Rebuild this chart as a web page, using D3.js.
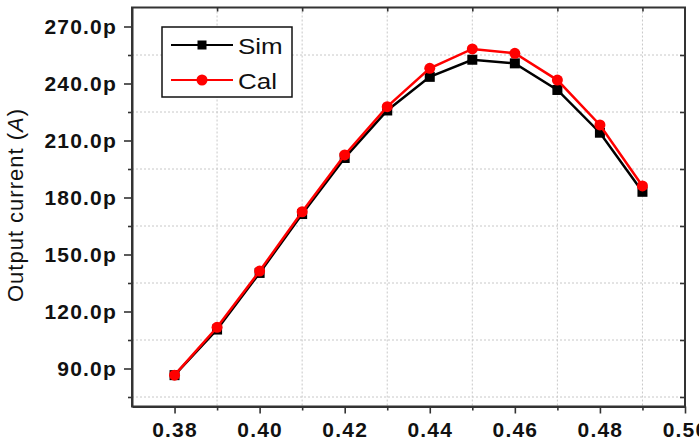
<!DOCTYPE html>
<html>
<head>
<meta charset="utf-8">
<script src="https://cdn.jsdelivr.net/npm/d3@7/dist/d3.min.js"></script>
<style>
  body { margin: 0; background: #fff; }
  svg { display: block; }
</style>
</head>
<body>
<div id="chart"></div>
<script>
// data (current in pA)
var xValues = [0.38, 0.39, 0.40, 0.41, 0.42, 0.43, 0.44, 0.45, 0.46, 0.47, 0.48, 0.49];
var simValues = [86.5, 110.5, 140.3, 171.3, 200.8, 225.8, 243.5, 252.5, 250.6, 236.6, 214.1, 183.0];
var calValues = [86.5, 111.7, 141.3, 172.5, 202.4, 227.8, 248.0, 258.2, 255.9, 241.8, 218.2, 186.1];
var xTicks = [0.38, 0.40, 0.42, 0.44, 0.46, 0.48, 0.50];
var xMinor = [0.39, 0.41, 0.43, 0.45, 0.47, 0.49];
var yTicks = [90, 120, 150, 180, 210, 240, 270];
var yMinor = [75, 105, 135, 165, 195, 225, 255];
var seriesNames = ["Sim", "Cal"];

var w = 699, h = 441;
// plot frame edges (window.top is taken, so p-prefixed names)
var pLeft = 132, pTop = 7.5, pRight = 685, pBottom = 406.5;

var svg = d3.select("#chart").append("svg")
    .attr("width", w)
    .attr("height", h);

var x = d3.scaleLinear().domain([0.37, 0.50]).range([pLeft, pRight]);
var y = d3.scaleLinear().domain([70, 280]).range([pBottom, pTop]);

// dotted grid at the minor positions
svg.append("g").selectAll("line")
    .data(xMinor).enter().append("line")
    .attr("x1", function(d) { return x(d); })
    .attr("x2", function(d) { return x(d); })
    .attr("y1", pTop).attr("y2", pBottom)
    .attr("stroke", "#c8c8c8").attr("stroke-width", 1)
    .attr("stroke-dasharray", "2,2");
svg.append("g").selectAll("line")
    .data(yMinor).enter().append("line")
    .attr("x1", pLeft).attr("x2", pRight)
    .attr("y1", function(d) { return y(d); })
    .attr("y2", function(d) { return y(d); })
    .attr("stroke", "#c8c8c8").attr("stroke-width", 1)
    .attr("stroke-dasharray", "2,2");

// bottom axis
var xAxis = svg.append("g")
    .attr("transform", "translate(0," + pBottom + ")")
    .call(d3.axisBottom(x).tickValues(xTicks).tickFormat(d3.format(".2f")).tickSize(7).tickSizeOuter(0));
svg.append("g")
    .attr("transform", "translate(0," + pBottom + ")")
    .call(d3.axisBottom(x).tickValues(xMinor).tickFormat("").tickSize(4).tickSizeOuter(0))
    .select(".domain").remove();

// left axis
var yAxis = svg.append("g")
    .attr("transform", "translate(" + pLeft + ",0)")
    .call(d3.axisLeft(y).tickValues(yTicks).tickFormat(function(d) { return d3.format(".1f")(d) + "p"; }).tickSize(8).tickSizeOuter(0));
svg.append("g")
    .attr("transform", "translate(" + pLeft + ",0)")
    .call(d3.axisLeft(y).tickValues(yMinor).tickFormat("").tickSize(4).tickSizeOuter(0))
    .select(".domain").remove();

// top and right: small inward ticks at minor positions
svg.append("g")
    .attr("transform", "translate(0," + pTop + ")")
    .call(d3.axisBottom(x).tickValues(xMinor).tickFormat("").tickSize(4).tickSizeOuter(0))
    .select(".domain").remove();
svg.append("g")
    .attr("transform", "translate(" + pRight + ",0)")
    .call(d3.axisLeft(y).tickValues(yMinor).tickFormat("").tickSize(5).tickSizeOuter(0))
    .select(".domain").remove();

svg.selectAll(".tick line").attr("stroke", "#333").attr("stroke-width", 1.6);
svg.selectAll(".domain").attr("stroke", "#333").attr("stroke-width", 2);

xAxis.selectAll("text")
    .attr("y", 16)
    .style("font-family", "'Liberation Sans', Arial, sans-serif")
    .style("font-weight", "bold")
    .style("font-size", "21px")
    .style("letter-spacing", "1.2px")
    .attr("fill", "#111");
yAxis.selectAll("text")
    .attr("x", -15)
    .style("font-family", "'Liberation Sans', Arial, sans-serif")
    .style("font-weight", "bold")
    .style("font-size", "21px")
    .style("letter-spacing", "1.2px")
    .attr("fill", "#111");

// frame
svg.append("rect")
    .attr("x", pLeft).attr("y", pTop)
    .attr("width", pRight - pLeft).attr("height", pBottom - pTop)
    .attr("fill", "none").attr("stroke", "#333").attr("stroke-width", 2);

// y label
var ylab = svg.append("text")
    .attr("transform", "translate(23,205) rotate(-90)")
    .attr("text-anchor", "middle")
    .style("font-family", "'Liberation Sans', Arial, sans-serif")
    .style("font-size", "22px")
    .style("letter-spacing", "1px")
    .attr("fill", "#111");
ylab.append("tspan").text("Output current (");
ylab.append("tspan").style("font-style", "italic").text("A");
ylab.append("tspan").text(")");

// lines
var line = d3.line()
    .x(function(d, i) { return x(xValues[i]); })
    .y(function(d) { return y(d); });

svg.append("path").datum(simValues)
    .attr("d", line)
    .attr("fill", "none").attr("stroke", "#000").attr("stroke-width", 2.5);
svg.append("g").selectAll("rect")
    .data(simValues).enter().append("rect")
    .attr("x", function(d, i) { return x(xValues[i]) - 5; })
    .attr("y", function(d) { return y(d) - 5; })
    .attr("width", 10).attr("height", 10)
    .attr("fill", "#000");

svg.append("path").datum(calValues)
    .attr("d", line)
    .attr("fill", "none").attr("stroke", "#ff0000").attr("stroke-width", 2.5);
svg.append("g").selectAll("circle")
    .data(calValues).enter().append("circle")
    .attr("cx", function(d, i) { return x(xValues[i]); })
    .attr("cy", function(d) { return y(d); })
    .attr("r", 5.5)
    .attr("fill", "#ff0000");

// legend
var lg = svg.append("g");
lg.append("rect")
    .attr("x", 162).attr("y", 27)
    .attr("width", 130).attr("height", 70)
    .attr("fill", "#fff").attr("stroke", "#111").attr("stroke-width", 1.5);
var colors = ["#000", "#ff0000"];
seriesNames.forEach(function(name, i) {
    var ly = 45 + i * 35;
    lg.append("line")
        .attr("x1", 171).attr("x2", 233)
        .attr("y1", ly).attr("y2", ly)
        .attr("stroke", colors[i]).attr("stroke-width", 2.2);
    if (i === 0) {
        lg.append("rect").attr("x", 197.5).attr("y", ly - 4.5)
            .attr("width", 9).attr("height", 9).attr("fill", colors[i]);
    } else {
        lg.append("circle").attr("cx", 202).attr("cy", ly).attr("r", 5.5).attr("fill", colors[i]);
    }
    lg.append("text")
        .attr("transform", "translate(238," + (ly + 9) + ") scale(1.18,1)")
        .style("font-family", "'Liberation Sans', Arial, sans-serif")
        .style("font-size", "22px")
        .attr("fill", "#111")
        .text(name);
});
</script>
</body>
</html>
